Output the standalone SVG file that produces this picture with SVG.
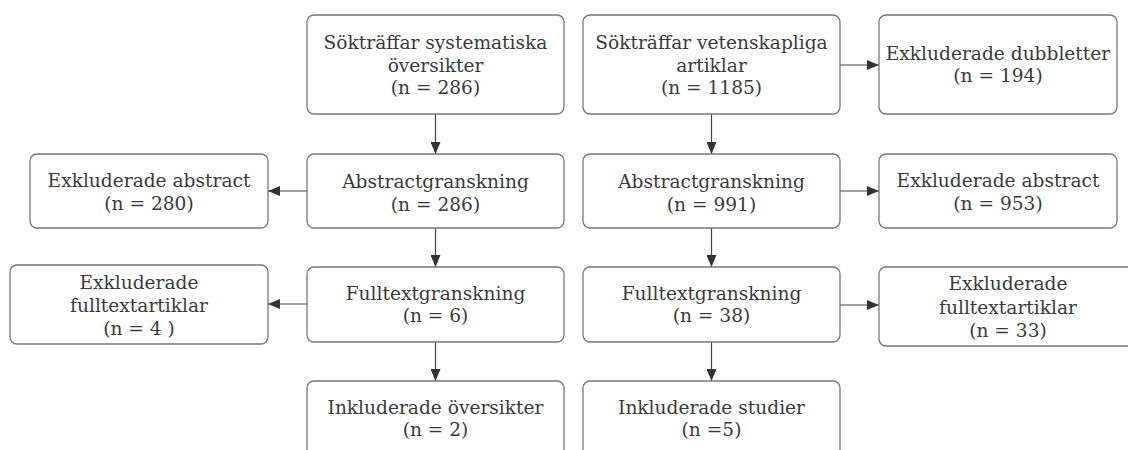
<svg xmlns="http://www.w3.org/2000/svg" width="1128" height="450" viewBox="0 0 1128 450">
<defs>
<marker id="arr" viewBox="0 0 12 10" refX="12" refY="5" markerWidth="12" markerHeight="10" markerUnits="userSpaceOnUse" orient="auto">
<path d="M0,0 L12,5 L0,10 z" fill="#333"/>
</marker>
<style>
.box{fill:#fff;stroke:#777;stroke-width:1.3}
.t{font-family:"DejaVu Serif","Liberation Serif",serif;font-size:18.6px;fill:#3a3a3a;text-anchor:middle}
.c{stroke:#444;stroke-width:1.2;fill:none;marker-end:url(#arr)}
</style>
</defs>
<rect width="1128" height="450" fill="#fff"/>
<g id="connectors">
<path class="c" d="M435.5,114 V154"/>
<path class="c" d="M435.5,228 V267"/>
<path class="c" d="M435.5,342 V381"/>
<path class="c" d="M711.5,114 V154"/>
<path class="c" d="M711.5,228 V267"/>
<path class="c" d="M711.5,342 V381"/>
<path class="c" d="M840,65 H879"/>
<path class="c" d="M840,191 H879"/>
<path class="c" d="M840,305 H879"/>
<path class="c" d="M307,191 H268"/>
<path class="c" d="M307,304 H268"/>
</g>
<g id="n1"><rect class="box" x="307" y="15" width="257" height="99" rx="7"/>
<text class="t" x="435.5" y="49">Sökträffar systematiska</text><text class="t" x="435.5" y="71.5">översikter</text><text class="t" x="435.5" y="94">(n = 286)</text></g>
<g id="n2"><rect class="box" x="583" y="15" width="257" height="99" rx="7"/>
<text class="t" x="711.5" y="49">Sökträffar vetenskapliga</text><text class="t" x="711.5" y="71.5">artiklar</text><text class="t" x="711.5" y="94">(n = 1185)</text></g>
<g id="n3"><rect class="box" x="879" y="15" width="238" height="99" rx="7"/>
<text class="t" x="998" y="60">Exkluderade dubbletter</text><text class="t" x="998" y="82">(n = 194)</text></g>
<g id="n4"><rect class="box" x="307" y="154" width="257" height="74" rx="7"/>
<text class="t" x="435.5" y="188">Abstractgranskning</text><text class="t" x="435.5" y="210.5">(n = 286)</text></g>
<g id="n5"><rect class="box" x="583" y="154" width="257" height="74" rx="7"/>
<text class="t" x="711.5" y="188">Abstractgranskning</text><text class="t" x="711.5" y="210.5">(n = 991)</text></g>
<g id="n6"><rect class="box" x="30" y="154" width="238" height="74" rx="7"/>
<text class="t" x="149" y="187">Exkluderade abstract</text><text class="t" x="149" y="210">(n = 280)</text></g>
<g id="n7"><rect class="box" x="879" y="154" width="238" height="74" rx="7"/>
<text class="t" x="998" y="187">Exkluderade abstract</text><text class="t" x="998" y="210">(n = 953)</text></g>
<g id="n8"><rect class="box" x="307" y="267" width="257" height="75" rx="7"/>
<text class="t" x="435.5" y="299.5">Fulltextgranskning</text><text class="t" x="435.5" y="322">(n = 6)</text></g>
<g id="n9"><rect class="box" x="583" y="267" width="257" height="75" rx="7"/>
<text class="t" x="711.5" y="299.5">Fulltextgranskning</text><text class="t" x="711.5" y="322">(n = 38)</text></g>
<g id="n10"><rect class="box" x="10" y="265" width="258" height="79" rx="7"/>
<text class="t" x="139" y="288.5">Exkluderade</text><text class="t" x="139" y="311.5">fulltextartiklar</text><text class="t" x="139" y="335">(n = 4 )</text></g>
<g id="n11"><rect class="box" x="879" y="267" width="258" height="79" rx="7"/>
<text class="t" x="1008" y="290">Exkluderade</text><text class="t" x="1008" y="313.5">fulltextartiklar</text><text class="t" x="1008" y="337">(n = 33)</text></g>
<g id="n12"><rect class="box" x="307" y="381" width="257" height="76" rx="7"/>
<text class="t" x="435.5" y="413.5">Inkluderade översikter</text><text class="t" x="435.5" y="436">(n = 2)</text></g>
<g id="n13"><rect class="box" x="583" y="381" width="257" height="76" rx="7"/>
<text class="t" x="711.5" y="413.5">Inkluderade studier</text><text class="t" x="711.5" y="436">(n =5)</text></g>
</svg>
